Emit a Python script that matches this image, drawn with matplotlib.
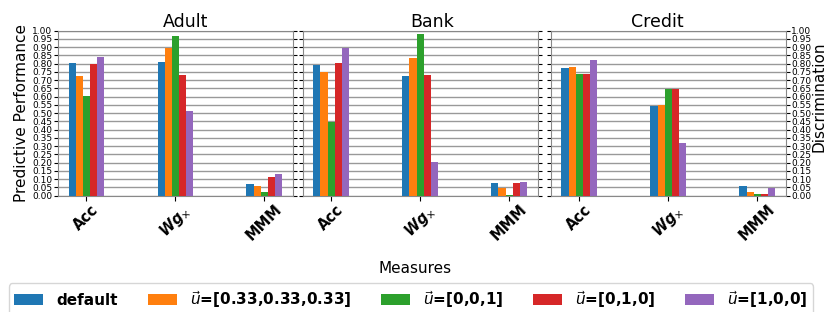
import numpy as np
import matplotlib
matplotlib.use("Agg")
import matplotlib.pyplot as plt

datasets = ["Adult", "Bank", "Credit"]
measures = ["Acc", r"$\mathbfit{Wg}_{\times}$", "MMM"]
series = ["default", r"$\vec{u}$=[0.33,0.33,0.33]", r"$\vec{u}$=[0,0,1]",
          r"$\vec{u}$=[0,1,0]", r"$\vec{u}$=[1,0,0]"]
colors = ["#1f77b4", "#ff7f0e", "#2ca02c", "#d62728", "#9467bd"]

# values[series][measure] per dataset
adult = [
    [0.802, 0.810, 0.069],
    [0.727, 0.897, 0.057],
    [0.606, 0.968, 0.022],
    [0.798, 0.729, 0.113],
    [0.838, 0.513, 0.129],
]
bank = [
    [0.794, 0.722, 0.077],
    [0.750, 0.833, 0.046],
    [0.448, 0.980, 0.006],
    [0.804, 0.732, 0.075],
    [0.895, 0.206, 0.085],
]
credit = [
    [0.774, 0.540, 0.058],
    [0.780, 0.550, 0.022],
    [0.734, 0.649, 0.012],
    [0.734, 0.649, 0.012],
    [0.819, 0.319, 0.044],
]
all_data = [adult, bank, credit]

fig = plt.figure(figsize=(8.27, 3.12), dpi=100)
lefts = [0.070, 0.366, 0.666]
width = 0.284
bottom, top = 0.373, 0.902
title_x = [0.543, 0.551, 0.454]

x = np.arange(len(measures))
bw = 0.08
for k, (name, vals) in enumerate(zip(datasets, all_data)):
    ax = fig.add_axes([lefts[k], bottom, width, top - bottom])
    for i, s in enumerate(series):
        ax.bar(x + (i - 2) * bw, vals[i], bw, color=colors[i], label=s, zorder=3)
    ax.set_ylim(0, 1.0)
    ax.set_yticks(np.arange(0, 1.0001, 0.05))
    ax.yaxis.grid(True, color="#999999", lw=1.0, zorder=0)
    ax.set_axisbelow(True)
    ax.set_xticks(x)
    ax.set_xticklabels(measures, rotation=45, fontsize=10.5, fontweight="bold")
    ax.tick_params(axis="y", labelsize=6.5, right=True, pad=1, length=3)
    ax.tick_params(axis="x", pad=1)
    for sp in ax.spines.values():
        sp.set_color("#888888")
    ax.set_title(name, fontsize=12.5, pad=2, x=title_x[k])
    if k == 0:
        ax.set_ylabel("Predictive Performance", fontsize=11, labelpad=2)
        ax.tick_params(axis="y", labelleft=True)
    else:
        ax.tick_params(axis="y", labelleft=False)
    if k == 2:
        ax.tick_params(axis="y", labelright=True)
        ax.yaxis.set_label_position("right")
        ax.set_ylabel("Discrimination", fontsize=11)
        ax.yaxis.set_label_coords(1.11, 0.6)
    if k == 0:
        handles, leg_labels = ax.get_legend_handles_labels()

fig.text(0.502, 0.141, "Measures", ha="center", va="center", fontsize=11)
fig.legend(handles, leg_labels, loc="lower center", ncol=5,
           bbox_to_anchor=(0.497, -0.01), prop={"weight": "bold", "size": 11},
           handlelength=1.9, handletextpad=0.85, columnspacing=1.95,
           borderaxespad=0.0, borderpad=0.35)

fig.savefig("out.png", dpi=100)
